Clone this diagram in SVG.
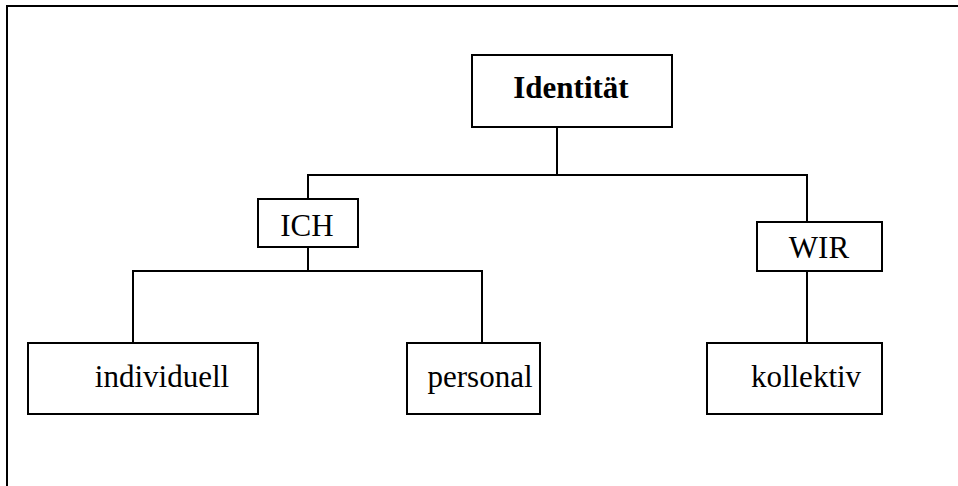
<svg xmlns="http://www.w3.org/2000/svg" width="958" height="486" viewBox="0 0 958 486">
<style>
.box{fill:#fff;stroke:#000;stroke-width:2}
.ln{fill:none;stroke:#000;stroke-width:2}
.t{font-family:"Liberation Serif","Times New Roman",serif;font-size:31px;fill:#000;text-anchor:middle}
.b{font-weight:bold;font-size:31px}
</style>
<rect width="958" height="486" fill="#fff"/>
<path class="ln" d="M7,486 V6 H958" stroke-width="2.5"/>
<g id="connectors">
<path class="ln" d="M557,127 V175"/>
<path class="ln" d="M308,199 V175 H807 V222"/>
<path class="ln" d="M308,247 V271"/>
<path class="ln" d="M133,343 V271 H482 V343"/>
<path class="ln" d="M807,271 V343"/>
</g>
<g id="identitaet"><rect class="box" x="472" y="55" width="200" height="72"/><text class="t b" x="571" y="98">Identität</text></g>
<g id="ich"><rect class="box" x="258" y="199" width="100" height="48"/><text class="t" x="307" y="236">ICH</text></g>
<g id="wir"><rect class="box" x="757" y="222" width="125" height="49"/><text class="t" x="819" y="258">WIR</text></g>
<g id="individuell"><rect class="box" x="28" y="343" width="230" height="71"/><text class="t" x="162" y="387">individuell</text></g>
<g id="personal"><rect class="box" x="407" y="343" width="133" height="71"/><text class="t" x="480" y="387">personal</text></g>
<g id="kollektiv"><rect class="box" x="707" y="343" width="175" height="71"/><text class="t" x="806" y="387">kollektiv</text></g>
</svg>
